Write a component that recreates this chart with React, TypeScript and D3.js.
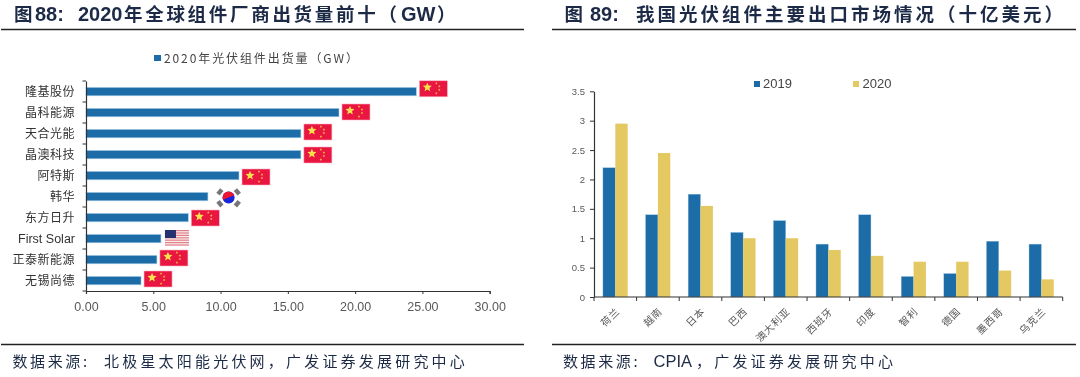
import React, { useEffect, useRef } from "react";
import * as d3 from "d3";

const makers = ["隆基股份", "晶科能源", "天合光能", "晶澳科技", "阿特斯", "韩华", "东方日升", "First Solar", "正泰新能源", "无锡尚德"];
const shipments = [24.55, 18.8, 15.97, 15.97, 11.37, 9.06, 7.6, 5.57, 5.27, 4.09];
const flags = ["cn", "cn", "cn", "cn", "cn", "kr", "cn", "us", "cn", "cn"];
const flagNudge = [-2.7, -0.5, -1.5, 0.5, 1.5, 1, 0.5, -0.5, -1.5, -1.5];
const shipmentTicks = [0, 5, 10, 15, 20, 25, 30];
const markets = ["荷兰", "越南", "日本", "巴西", "澳大利亚", "西班牙", "印度", "智利", "德国", "墨西哥", "乌克兰"];
const export2019 = [2.2, 1.4, 1.75, 1.1, 1.3, 0.9, 1.4, 0.35, 0.4, 0.95, 0.9];
const export2020 = [2.95, 2.45, 1.55, 1.0, 1.0, 0.8, 0.7, 0.6, 0.6, 0.45, 0.3];
const exportTicks = [0, 0.5, 1, 1.5, 2, 2.5, 3, 3.5];

const BLUE = "#1a6ca8";
const GOLD = "#e4c964";
const INK = "#1d2c46";
const GREY = "#595959";
const CJK = "'Noto Sans CJK SC', sans-serif";
const LATIN = "'Liberation Sans', Arial, sans-serif";

const starPath = (cx: number, cy: number, r: number) => {
  const pts: [number, number][] = d3.range(10).map((i) => {
    const a = -Math.PI / 2 + (i * Math.PI) / 5;
    const q = i % 2 ? r * 0.45 : r;
    return [cx + q * Math.cos(a), cy + q * Math.sin(a)];
  });
  return d3.line()(pts) + "Z";
};

function Flag({ kind, x, cy }: { kind: string; x: number; cy: number }) {
  if (kind === "cn") {
    return (
      <g transform={`translate(${x},${cy - 8})`}>
        <rect width={28} height={16} fill="#e8123f" stroke="#f7b4c0" strokeWidth={0.6} />
        <path d={starPath(8, 6.5, 4.8)} fill="#f6e04e" />
        {[[17, 2.5], [20, 5.5], [20, 9], [17, 12.5]].map(([a, b], i) => (
          <path key={i} d={starPath(a, b, 1.4)} fill="#f3b840" />
        ))}
      </g>
    );
  }
  if (kind === "us") {
    return (
      <g transform={`translate(${x + 1},${cy - 8})`}>
        <rect width={24} height={16} fill="#fbeeee" />
        {d3.range(7).map((i) => (
          <rect key={i} y={i * 2.4} width={24} height={1.2} fill="#df7f88" />
        ))}
        <rect width={11} height={8} fill="#27306f" />
      </g>
    );
  }
  const arc = d3.arc();
  return (
    <g transform={`translate(${x + 17.7},${cy})`}>
      <circle r={6} fill="#1327d8" />
      <path d={arc({ innerRadius: 0, outerRadius: 6, startAngle: -Math.PI / 2 - 0.4, endAngle: Math.PI / 2 - 0.4 })!} fill="#ee1330" />
      {[[-8.7, -5.6, -50], [8.7, -5.6, 50], [-8.7, 6.2, 50], [8.7, 6.2, -50]].map(([a, b, r], i) => (
        <rect key={i} x={a - 3} y={b - 2.2} width={6} height={4.4} fill="#777" transform={`rotate(${r} ${a} ${b})`} />
      ))}
    </g>
  );
}

function Axis({ make, transform }: { make: () => d3.Axis<any>; transform: string }) {
  const ref = useRef<SVGGElement>(null);
  useEffect(() => {
    const g = d3.select(ref.current!);
    g.call(make() as any);
    g.select(".domain").attr("stroke", "#333").attr("stroke-width", 1.2);
    g.selectAll(".tick line").attr("stroke", "#333");
    g.selectAll(".tick text").attr("fill", GREY).attr("font-family", LATIN);
    g.attr("font-family", null).attr("font-size", null);
  });
  return <g ref={ref} transform={transform} />;
}

export default function App() {
  const xL = d3.scaleLinear().domain([0, 30]).range([86, 489.7]);
  const yL = d3.scaleBand().domain(makers).range([81, 291]);
  const xR = d3.scaleBand().domain(markets).range([594, 1062.7]);
  const inner = d3.scaleBand().domain(["a", "b"]).range([0, xR.bandwidth()]).paddingInner(0).paddingOuter(0.72);
  const yR = d3.scaleLinear().domain([0, 3.5]).range([297, 91.3]);

  return (
    <svg width={1080} height={377} style={{ position: "absolute", left: 0, top: 0 }}>
      <defs>
        <filter id="soft" x="0" y="0" width="100%" height="100%">
          <feGaussianBlur stdDeviation="0.4" />
        </filter>
      </defs>
      <rect width={1080} height={377} fill="#fff" />
      <g filter="url(#soft)">
        <text y={20.5} fontFamily={CJK} fontWeight={700} fontSize={18.5} fill={INK}>
          <tspan x={14}>图</tspan>
          <tspan x={35} fontFamily={LATIN} fontSize={20}>88:</tspan>
          <tspan x={78} fontFamily={LATIN} fontSize={20}>2020</tspan>
          <tspan x={124} letterSpacing={2.7}>年全球组件厂商出货量前十（</tspan>
          <tspan x={401} fontFamily={LATIN} fontSize={20}>GW</tspan>
          <tspan x={437}>）</tspan>
        </text>
        <line x1={1} x2={524} y1={29.5} y2={29.5} stroke="#222" strokeWidth={1.5} />
        <text y={20.5} fontFamily={CJK} fontWeight={700} fontSize={18.5} fill={INK}>
          <tspan x={564.5}>图</tspan>
          <tspan x={590} fontFamily={LATIN} fontSize={20}>89:</tspan>
          <tspan x={636} letterSpacing={3}>我国光伏组件主要出口市场情况（十亿美元）</tspan>
        </text>
        <line x1={552} x2={1076} y1={29.5} y2={29.5} stroke="#222" strokeWidth={1.5} />

        <rect x={154} y={55} width={7} height={6} fill={BLUE} />
        <text x={164} y={62.5} fontFamily={CJK} fontSize={12} fill="#444" letterSpacing={1.9}>2020年光伏组件出货量（GW）</text>

        {makers.map((m, i) => (
          <g key={m}>
            <rect x={xL(0)} y={yL(m)! + yL.bandwidth() / 2 - 4.1} width={xL(shipments[i]) - xL(0)} height={8.4} fill={BLUE} stroke="#a9cde6" strokeWidth={0.6} />
            <Flag kind={flags[i]} x={xL(shipments[i]) + 3} cy={yL(m)! + yL.bandwidth() / 2 + flagNudge[i]} />
          </g>
        ))}
        <Axis transform="translate(86,0)" make={() => d3.axisLeft(yL).tickValues([]).tickSizeOuter(0)} />
        {makers.concat("").map((m, i) => (
          <line key={i} x1={82.5} x2={86} y1={81 + i * yL.step()} y2={81 + i * yL.step()} stroke="#333" />
        ))}
        {makers.map((m) => (
          <text key={m} x={75} y={yL(m)! + yL.bandwidth() / 2 + 4.5} textAnchor="end" fontFamily={m === "First Solar" ? LATIN : CJK} fontSize={m === "First Solar" ? 12.5 : 12} fill="#333" letterSpacing={m === "First Solar" ? 0 : 0.5}>{m}</text>
        ))}
        <g fontSize={12.5}>
          <Axis transform="translate(0,291)" make={() => d3.axisBottom(xL).tickValues(shipmentTicks).tickFormat((d) => d3.format(".2f")(d as number)).tickSizeOuter(0).tickSize(3).tickPadding(8)} />
        </g>

        <rect x={754} y={81} width={6} height={6} fill={BLUE} />
        <text x={763} y={88} fontFamily={LATIN} fontSize={13} fill="#444">2019</text>
        <rect x={853} y={81} width={6} height={6} fill={GOLD} />
        <text x={862.5} y={88} fontFamily={LATIN} fontSize={13} fill="#444">2020</text>

        {markets.map((m, i) => (
          <g key={m} transform={`translate(${xR(m)},0)`}>
            <rect x={inner("a")} y={yR(export2019[i])} width={inner.bandwidth()} height={yR(0) - yR(export2019[i])} fill={BLUE} stroke="#a9cde6" strokeWidth={0.4} />
            <rect x={inner("b")} y={yR(export2020[i])} width={inner.bandwidth()} height={yR(0) - yR(export2020[i])} fill={GOLD} />
          </g>
        ))}
        <g fontSize={9.5}>
          <Axis transform="translate(594,0)" make={() => d3.axisLeft(yR).tickValues(exportTicks).tickFormat((d) => String(d)).tickSize(4).tickPadding(5).tickSizeOuter(0)} />
        </g>
        <line x1={594} x2={1062.7} y1={297} y2={297} stroke="#333" strokeWidth={1.2} />
        {markets.concat("").map((m, i) => (
          <line key={i} x1={594 + i * xR.step()} x2={594 + i * xR.step()} y1={297} y2={301} stroke="#333" />
        ))}
        {markets.map((m) => (
          <text key={m} transform={`translate(${xR(m)! + xR.bandwidth() / 2 + 5},${312}) rotate(-45)`} textAnchor="end" fontFamily={CJK} fontSize={10} fill="#555" letterSpacing={0.8}>{m}</text>
        ))}

        <line x1={1} x2={524} y1={344.5} y2={344.5} stroke="#222" strokeWidth={1.5} />
        <line x1={552} x2={1076} y1={344.5} y2={344.5} stroke="#222" strokeWidth={1.5} />
        <text y={367} fontFamily={CJK} fontSize={15} fill={INK} letterSpacing={3.2}>
          <tspan x={12.5} letterSpacing={2.6}>数据来源:</tspan>
          <tspan x={104}>北极星太阳能光伏网，广发证券发展研究中心</tspan>
        </text>
        <text y={367} fontFamily={CJK} fontSize={15} fill={INK} letterSpacing={3.2}>
          <tspan x={563} letterSpacing={2.6}>数据来源:</tspan>
          <tspan x={653.5} fontFamily={LATIN} fontSize={16.5} letterSpacing={0}>CPIA</tspan>
          <tspan x={696}>，广发证券发展研究中心</tspan>
        </text>
      </g>
    </svg>
  );
}
